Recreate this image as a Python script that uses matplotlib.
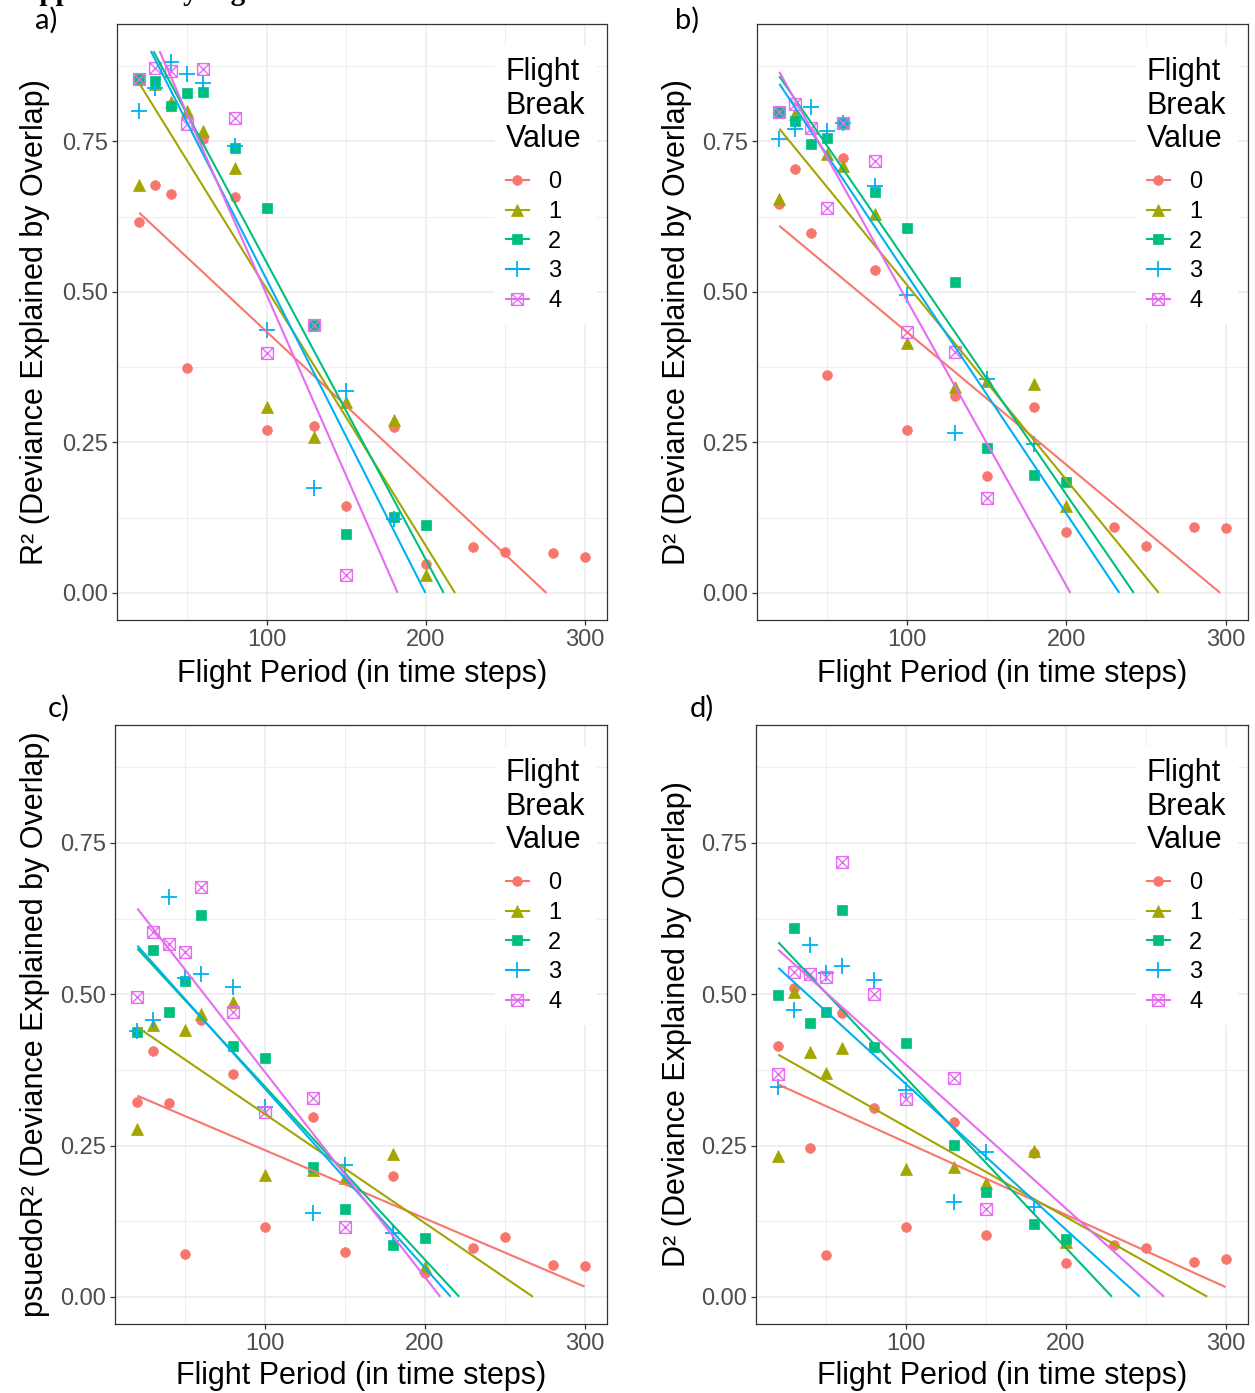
import matplotlib
matplotlib.use("Agg")
import matplotlib.pyplot as plt
import numpy as np
from matplotlib.path import Path
from matplotlib.lines import Line2D

plt.rcParams['font.family'] = ['Liberation Sans', 'DejaVu Sans']

# ---------------- data ----------------
break_values = ["0", "1", "2", "3", "4"]
colors = ["#F8766D", "#A3A500", "#00BF7D", "#00B0F6", "#E76BF3"]

x_full = [20, 30, 40, 50, 60, 80, 100, 130, 150, 180, 200, 230, 250, 280, 300]
x_200 = [20, 30, 40, 50, 60, 80, 100, 130, 150, 180, 200]
x_180 = [20, 30, 40, 50, 60, 80, 100, 130, 150, 180]
x_150 = [20, 30, 40, 50, 60, 80, 100, 130, 150]
x_b1 = [20, 30, 50, 60, 80, 100, 130, 150, 180, 200]
x_c1 = [20, 30, 50, 60, 80, 100, 130, 150, 180, 200]
x_d1 = [20, 30, 40, 50, 60, 100, 130, 150, 180, 200]

# panel a: R^2
a0 = [0.616, 0.678, 0.663, 0.374, 0.754, 0.658, 0.271, 0.277, 0.145, 0.276, 0.048, 0.076, 0.068, 0.066, 0.060]
a1 = [0.678, 0.845, 0.815, 0.800, 0.767, 0.706, 0.309, 0.259, 0.317, 0.287, 0.030]
a2 = [0.854, 0.850, 0.809, 0.830, 0.832, 0.739, 0.640, 0.445, 0.098, 0.126, 0.113]
a3 = [0.800, 0.839, 0.882, 0.862, 0.847, 0.742, 0.437, 0.174, 0.336, 0.123]
a4 = [0.854, 0.872, 0.867, 0.779, 0.870, 0.789, 0.398, 0.445, 0.030]

# panel b: D^2
b0 = [0.646, 0.704, 0.598, 0.362, 0.723, 0.537, 0.271, 0.327, 0.194, 0.309, 0.101, 0.110, 0.078, 0.110, 0.108]
b1 = [0.654, 0.796, 0.729, 0.709, 0.630, 0.415, 0.342, 0.352, 0.347, 0.145]
b2 = [0.799, 0.784, 0.746, 0.756, 0.781, 0.666, 0.606, 0.517, 0.241, 0.196, 0.184]
b3 = [0.754, 0.771, 0.807, 0.767, 0.781, 0.676, 0.495, 0.266, 0.355, 0.247]
b4 = [0.799, 0.812, 0.772, 0.640, 0.781, 0.718, 0.434, 0.400, 0.158]

# panel c: pseudo R^2
c0 = [0.322, 0.406, 0.320, 0.071, 0.458, 0.368, 0.116, 0.297, 0.074, 0.200, 0.040, 0.081, 0.099, 0.053, 0.051]
c1 = [0.277, 0.449, 0.441, 0.468, 0.487, 0.202, 0.210, 0.197, 0.236, 0.050]
c2 = [0.438, 0.573, 0.471, 0.522, 0.631, 0.415, 0.395, 0.215, 0.145, 0.086, 0.097]
c3 = [0.440, 0.458, 0.661, 0.527, 0.534, 0.512, 0.314, 0.139, 0.218, 0.106]
c4 = [0.496, 0.603, 0.583, 0.570, 0.677, 0.471, 0.306, 0.329, 0.116]

# panel d: D^2
d0 = [0.415, 0.510, 0.246, 0.069, 0.469, 0.312, 0.116, 0.289, 0.102, 0.238, 0.056, 0.085, 0.081, 0.058, 0.063]
d1 = [0.233, 0.504, 0.405, 0.370, 0.411, 0.211, 0.215, 0.188, 0.241, 0.090]
d2 = [0.499, 0.610, 0.452, 0.471, 0.639, 0.413, 0.419, 0.251, 0.173, 0.121, 0.096]
d3 = [0.347, 0.474, 0.582, 0.535, 0.547, 0.524, 0.342, 0.157, 0.240, 0.149]
d4 = [0.368, 0.537, 0.534, 0.529, 0.719, 0.500, 0.327, 0.362, 0.145]

x_ticks = [100, 200, 300]
y_ticks = [0.00, 0.25, 0.50, 0.75]
y_tick_labels = ["0.00", "0.25", "0.50", "0.75"]
x_title = "Flight Period (in time steps)"
y_titles = ["R² (Deviance Explained by Overlap)",
            "D² (Deviance Explained by Overlap)",
            "psuedoR² (Deviance Explained by Overlap)",
            "D² (Deviance Explained by Overlap)"]
panel_letters = ["a)", "b)", "c)", "d)"]
legend_title = "Flight\nBreak\nValue"
y_limits = (0.0, 0.9)   # scale limits: values / fits outside are dropped

# ---------------- layout ----------------
W, H, DPI = 1255, 1393, 100
fig = plt.figure(figsize=(W / DPI, H / DPI), dpi=DPI)
fig.patch.set_facecolor("white")

panel_px = [(117, 24, 607, 620), (757, 24, 1248, 620),
            (115, 725, 607, 1324), (756, 725, 1248, 1324)]
letter_px = [(35, 20), (675, 20), (48, 708), (690, 708)]
ylab_x = [-0.137, -0.132, -0.132, -0.130]
xlab_y = [-0.066, -0.066, -0.062, -0.062]

sqx = Path([(-1, -1), (1, -1), (1, 1), (-1, 1), (-1, -1),
            (-1, -1), (1, 1), (-1, 1), (1, -1)],
           [Path.MOVETO, Path.LINETO, Path.LINETO, Path.LINETO, Path.CLOSEPOLY,
            Path.MOVETO, Path.LINETO, Path.MOVETO, Path.LINETO])

def mstyle(i):
    c = colors[i]
    if i == 0:
        return dict(marker="o", ms=7.0, mfc=c, mec=c, mew=0.5)
    if i == 1:
        return dict(marker="^", ms=8.5, mfc=c, mec=c, mew=0.5)
    if i == 2:
        return dict(marker="s", ms=7.5, mfc=c, mec=c, mew=0.5)
    if i == 3:
        return dict(marker="+", ms=11.5, mfc=c, mec=c, mew=1.3)
    return dict(marker=sqx, ms=8.5, mfc="none", mec=c, mew=1.0)

panels = [
    [(x_full, a0), (x_200, a1), (x_200, a2), (x_180, a3), (x_150, a4)],
    [(x_full, b0), (x_b1, b1), (x_200, b2), (x_180, b3), (x_150, b4)],
    [(x_full, c0), (x_c1, c1), (x_200, c2), (x_180, c3), (x_150, c4)],
    [(x_full, d0), (x_d1, d1), (x_200, d2), (x_180, d3), (x_150, d4)],
]

xmin_all, xmax_all = min(x_full), max(x_full)
xpad = 0.05 * (xmax_all - xmin_all)
ypad = 0.05 * (y_limits[1] - y_limits[0])

for k, groups in enumerate(panels):
    l, t, r, b = panel_px[k]
    ax = fig.add_axes([l / W, 1 - b / H, (r - l) / W, (b - t) / H])
    ax.set_xlim(xmin_all - xpad, xmax_all + xpad)
    ax.set_ylim(y_limits[0] - ypad, y_limits[1] + ypad)
    ax.set_xticks(x_ticks)
    ax.set_xticks([50, 150, 250], minor=True)
    ax.set_yticks(y_ticks)
    ax.set_yticklabels(y_tick_labels)
    ax.set_yticks([0.125, 0.375, 0.625, 0.875], minor=True)
    ax.grid(which="major", color="#EBEBEB", lw=1.1, zorder=0)
    ax.grid(which="minor", color="#EFEFEF", lw=0.8, zorder=0)
    ax.set_axisbelow(True)
    for s in ax.spines.values():
        s.set_color("#333333")
        s.set_linewidth(0.9)
    ax.tick_params(which="major", length=3.5, width=0.9, color="#333333",
                   labelsize=17, labelcolor="#4D4D4D", pad=3)
    ax.tick_params(which="minor", length=0)

    # points
    for i, (xs, ys) in enumerate(groups):
        st = mstyle(i)
        ax.plot(xs, ys, linestyle="none", color=colors[i], zorder=3, **st)
    # linear fits (full x range, dropped outside the y limits)
    for i, (xs, ys) in enumerate(groups):
        m, c0_ = np.polyfit(xs, ys, 1)
        lo = max(xmin_all, (y_limits[1] - c0_) / m)
        hi = min(xmax_all, (y_limits[0] - c0_) / m)
        xx = np.linspace(lo, hi, 50)
        ax.plot(xx, m * xx + c0_, color=colors[i], lw=1.5, zorder=4,
                solid_capstyle="butt")

    ax.set_xlabel(x_title, fontsize=22, color="black")
    ax.set_ylabel(y_titles[k], fontsize=22, color="black")
    ax.xaxis.set_label_coords(0.5, xlab_y[k])
    ax.yaxis.set_label_coords(ylab_x[k], 0.5)

    handles = [Line2D([0], [0], color=colors[i], lw=1.5, **mstyle(i))
               for i in range(5)]
    bx = (r - 112 - l) / (r - l)
    by = (b - (t + 22)) / (b - t)
    leg = ax.legend(handles, break_values, title=legend_title, loc="upper left",
                    bbox_to_anchor=(bx, by), frameon=True, fancybox=False,
                    facecolor="white", edgecolor="white", framealpha=1.0,
                    fontsize=17, title_fontsize=22, handlelength=1.0,
                    handletextpad=0.8, labelspacing=0.33, borderpad=0.45,
                    borderaxespad=0.0, alignment="left")
    leg.get_title().set_linespacing(1.17)
    leg._legend_box.sep = 12
    leg.set_zorder(10)

    lx, ly = letter_px[k]
    fig.text(lx / W, 1 - ly / H, panel_letters[k], fontsize=21,
             family=["Lato", "DejaVu Sans"], ha="left", va="center")

# heading of the page, cut off at the top edge in the reference
fig.text(7 / W, 1.0, "Supplementary Figure", fontsize=21, fontweight="bold",
         family=["Liberation Serif", "DejaVu Serif"], ha="left", va="baseline")

fig.savefig("out.png", dpi=DPI)
